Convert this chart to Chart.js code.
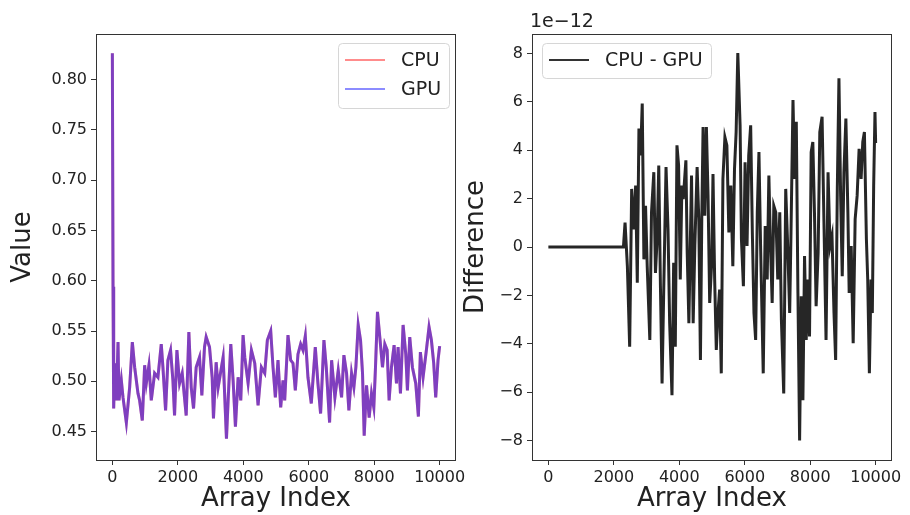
<!DOCTYPE html>
<html>
<head>
<meta charset="utf-8">
<script src="https://cdn.jsdelivr.net/npm/chart.js@4.4.1/dist/chart.umd.min.js"></script>
<style>
  html, body { margin: 0; padding: 0; background: #fff; }
  #wrap { position: relative; width: 910px; height: 515px; overflow: hidden; }
  #leftChart { position: absolute; left: 0; top: 0; }
  #rightChart { position: absolute; left: 460px; top: 0; }
</style>
</head>
<body>
<div id="wrap">
  <canvas id="leftChart" width="475" height="515"></canvas>
  <canvas id="rightChart" width="450" height="515"></canvas>
</div>
<script>
// ========== DATA ==========
// left panel: values per array index
const valueIdx = [0, 20, 40, 71, 122, 173, 203, 274, 325, 427, 528, 610, 681, 783, 833, 915, 986, 1037, 1118, 1189,
    1291, 1392, 1494, 1545, 1626, 1697, 1778, 1850, 1900, 1972, 2053, 2134, 2256, 2337, 2409, 2480, 2561, 2663, 2734, 2815,
    2866, 2968, 3049, 3089, 3171, 3232, 3384, 3486, 3537, 3618, 3689, 3760, 3842, 3923, 3994, 4045, 4147, 4248, 4350, 4452,
    4553, 4655, 4736, 4838, 4909, 4980, 5061, 5143, 5214, 5265, 5366, 5448, 5519, 5590, 5671, 5752, 5824, 5895, 5976, 6078,
    6200, 6281, 6362, 6464, 6535, 6637, 6698, 6799, 6901, 7003, 7074, 7155, 7226, 7308, 7379, 7440, 7511, 7582, 7643, 7694,
    7765, 7846, 7917, 7988, 8039, 8100, 8171, 8253, 8324, 8395, 8456, 8527, 8608, 8680, 8730, 8802, 8883, 8964, 9015, 9086,
    9167, 9269, 9350, 9411, 9493, 9594, 9675, 9747, 9818, 9879, 9950, 9999];
const cpuValues = [0.826, 0.594, 0.473, 0.518, 0.481, 0.539, 0.481, 0.501, 0.484, 0.459, 0.494, 0.539, 0.514, 0.488, 0.481, 0.461, 0.516, 0.498, 0.516, 0.481,
    0.508, 0.504, 0.537, 0.514, 0.471, 0.521, 0.531, 0.501, 0.466, 0.531, 0.498, 0.508, 0.466, 0.549, 0.494, 0.473, 0.514, 0.524, 0.486, 0.534,
    0.544, 0.534, 0.504, 0.463, 0.519, 0.494, 0.524, 0.443, 0.481, 0.537, 0.501, 0.455, 0.504, 0.481, 0.546, 0.524, 0.498, 0.531, 0.518, 0.476,
    0.514, 0.508, 0.541, 0.550, 0.514, 0.484, 0.521, 0.474, 0.501, 0.481, 0.546, 0.521, 0.518, 0.491, 0.527, 0.537, 0.531, 0.545, 0.504, 0.478,
    0.534, 0.498, 0.468, 0.541, 0.514, 0.459, 0.521, 0.484, 0.511, 0.484, 0.526, 0.508, 0.471, 0.508, 0.494, 0.514, 0.556, 0.541, 0.508, 0.446,
    0.496, 0.464, 0.488, 0.474, 0.514, 0.569, 0.544, 0.514, 0.537, 0.531, 0.481, 0.514, 0.536, 0.498, 0.534, 0.488, 0.556, 0.527, 0.491, 0.544,
    0.514, 0.498, 0.465, 0.529, 0.504, 0.531, 0.554, 0.541, 0.518, 0.484, 0.521, 0.535];
// GPU matches CPU to ~1e-12, so at plot resolution it is the same curve
const gpuValues = cpuValues.slice();

// right panel: CPU - GPU, in units of 1e-12
const diffIdx = [0, 2293, 2343, 2414, 2484, 2545, 2616, 2666, 2717, 2767, 2818, 2868, 2919, 2969, 3020, 3100, 3151, 3222, 3272, 3323,
    3373, 3424, 3474, 3525, 3595, 3656, 3706, 3777, 3828, 3878, 3929, 3979, 4030, 4080, 4121, 4202, 4242, 4293, 4374, 4424,
    4475, 4545, 4596, 4646, 4687, 4727, 4778, 4828, 4879, 4929, 4990, 5030, 5081, 5131, 5182, 5232, 5283, 5333, 5394, 5454,
    5515, 5575, 5636, 5687, 5737, 5788, 5858, 5899, 5959, 6010, 6070, 6121, 6181, 6232, 6282, 6333, 6383, 6434, 6484, 6565,
    6625, 6686, 6737, 6787, 6838, 6888, 6949, 7009, 7070, 7120, 7191, 7252, 7312, 7373, 7413, 7474, 7524, 7575, 7625, 7676,
    7726, 7777, 7827, 7878, 7928, 7979, 8029, 8080, 8130, 8181, 8242, 8293, 8363, 8424, 8484, 8545, 8606, 8666, 8727, 8777,
    8828, 8878, 8929, 8979, 9030, 9090, 9151, 9191, 9252, 9313, 9373, 9434, 9494, 9555, 9606, 9656, 9717, 9757, 9808, 9858,
    9898, 9939, 9979, 9999];
const diffE12 = [0, 0, 1.01, -0.79, -4.12, 2.40, 0.73, 2.54, -1.48, 4.89, 3.78, 5.93, -0.51, 1.70, -0.79, -3.84, 1.43, 3.09, -1.07, 0.32,
    3.37, -1.62, -5.64, -1.76, 3.30, 0.73, -3.15, -6.12, -0.65, -4.12, 4.20, 3.37, -1.34, 2.54, 1.98, 3.58, -0.24, -3.15, 2.95, -3.15,
    0.04, 3.30, 1.15, -4.67, 1.15, 4.96, 1.29, 4.96, 2.12, -2.31, -0.65, 3.02, -1.34, -4.25, -2.73, -1.76, -5.22, 2.81, 4.54, 4.20,
    0.60, 2.54, -0.79, 3.23, 4.75, 8.01, 5.03, 0.32, -1.62, 3.50, 0.04, 3.78, 5.03, 0.60, -2.73, -3.84, 1.43, 3.92, 0.04, -5.22,
    0.87, -1.34, 2.95, 0.04, -2.31, 1.70, 1.43, -1.34, 1.43, -3.01, -6.05, 2.40, 0.04, -2.73, 0.60, 6.07, 2.81, 5.17, -1.90, -7.99,
    -2.04, -6.33, -0.37, -3.84, -1.34, -3.70, 3.92, 4.34, 1.43, -2.45, -0.24, 4.75, 5.38, 0.73, -3.84, 3.09, 0.04, 0.46, -2.73, -4.67,
    2.40, 6.97, 2.12, -1.21, 3.09, 5.31, 1.43, -1.90, 0.04, -3.98, 1.15, 2.12, 4.06, 2.81, 4.34, 4.75, 0.32, -1.34, -5.22, -1.34,
    -2.73, 2.54, 5.58, 4.30];

// ticks
const xTicks = [0, 2000, 4000, 6000, 8000, 10000];
const valueTicks = [0.45, 0.50, 0.55, 0.60, 0.65, 0.70, 0.75, 0.80];
const diffTicks = [-8, -6, -4, -2, 0, 2, 4, 6, 8];
const diffTickLabels = ['\u22128', '\u22126', '\u22124', '\u22122', '0', '2', '4', '6', '8'];


// ========== HELPERS ==========
const FONT = 'DejaVu Sans';
const INK = '#222';

function toPoints(xs, ys) {
    return xs.map((x, i) => ({ x: x, y: ys[i] }));
}

function roundRect(ctx, x, y, w, h, r) {
    ctx.beginPath();
    ctx.moveTo(x + r, y);
    ctx.lineTo(x + w - r, y);
    ctx.quadraticCurveTo(x + w, y, x + w, y + r);
    ctx.lineTo(x + w, y + h - r);
    ctx.quadraticCurveTo(x + w, y + h, x + w - r, y + h);
    ctx.lineTo(x + r, y + h);
    ctx.quadraticCurveTo(x, y + h, x, y + h - r);
    ctx.lineTo(x, y + r);
    ctx.quadraticCurveTo(x, y, x + r, y);
    ctx.closePath();
}

// frame + matplotlib-like legend + optional offset text
const framePlugin = {
    id: 'mplFrame',
    afterDraw(chart, args, opts) {
        const ctx = chart.ctx;
        const a = chart.chartArea;
        ctx.save();
        ctx.strokeStyle = '#333';
        ctx.lineWidth = 1;
        ctx.strokeRect(Math.round(a.left) + 0.5, Math.round(a.top) + 0.5,
            Math.round(a.right - a.left) - 1, Math.round(a.bottom - a.top));

        if (opts.legend) {
            const lg = opts.legend;
            roundRect(ctx, lg.x + 0.5, lg.y + 0.5, lg.w, lg.h, 4);
            ctx.fillStyle = 'rgba(255,255,255,0.8)';
            ctx.fill();
            ctx.strokeStyle = '#d6d6d6';
            ctx.stroke();
            ctx.font = '19px "' + FONT + '"';
            ctx.textBaseline = 'middle';
            ctx.textAlign = 'left';
            lg.items.forEach((it, i) => {
                const yy = lg.y + 17 + i * 29;
                ctx.strokeStyle = it.color;
                ctx.lineWidth = 2;
                ctx.beginPath();
                ctx.moveTo(lg.x + 7, yy);
                ctx.lineTo(lg.x + 47, yy);
                ctx.stroke();
                ctx.fillStyle = INK;
                ctx.fillText(it.text, lg.x + 63, yy + 1);
            });
        }

        if (opts.offsetText) {
            ctx.font = '19px "' + FONT + '"';
            ctx.fillStyle = INK;
            ctx.textAlign = 'left';
            ctx.textBaseline = 'alphabetic';
            ctx.fillText(opts.offsetText, a.left - 2, a.top - 7);
        }
        ctx.restore();
    }
};

function axisX(title) {
    return {
        type: 'linear',
        min: -500,
        max: 10499,
        afterBuildTicks: s => { s.ticks = xTicks.map(v => ({ value: v })); },
        afterFit: s => { s.height = 55; s.paddingLeft = 0; s.paddingRight = 0; },
        grid: { drawOnChartArea: false, drawTicks: true, tickLength: 5, color: '#333' },
        border: { display: false },
        ticks: {
            font: { family: FONT, size: 16 }, color: INK, padding: 3, maxRotation: 0,
            callback: v => String(v)
        },
        title: { display: true, text: title, font: { family: FONT, size: 26 }, color: INK, padding: { top: 0, bottom: 0 } }
    };
}

function axisY(opts) {
    return {
        type: 'linear',
        min: opts.min,
        max: opts.max,
        afterBuildTicks: s => { s.ticks = opts.ticks.map(v => ({ value: v })); },
        afterFit: s => { s.width = opts.width; s.paddingTop = 0; s.paddingBottom = 0; },
        grid: { drawOnChartArea: false, drawTicks: true, tickLength: 5, color: '#333' },
        border: { display: false },
        ticks: {
            font: { family: FONT, size: 16 }, color: INK, padding: 4,
            callback: opts.label
        },
        title: { display: true, text: opts.title, font: { family: FONT, size: 26 }, color: INK, padding: { top: opts.titlePad, bottom: 0 } }
    };
}


// ========== CHARTS ==========
function createValueChart() {
    const ctx = document.getElementById('leftChart');
    window.valueChart = new Chart(ctx, {
        type: 'line',
        data: {
            datasets: [{
                label: 'CPU',
                data: toPoints(valueIdx, cpuValues),
                borderColor: 'rgba(255,0,0,0.5)',
                borderWidth: 3,
                pointRadius: 0,
                tension: 0,
                order: 1
            }, {
                label: 'GPU',
                data: toPoints(valueIdx, gpuValues),
                borderColor: 'rgba(0,0,255,0.5)',
                borderWidth: 3,
                pointRadius: 0,
                tension: 0,
                order: 0
            }]
        },
        options: {
            responsive: false,
            animation: false,
            devicePixelRatio: 1,
            layout: { padding: { top: 34, right: 19, left: 0, bottom: 0 } },
            scales: {
                x: axisX('Array Index'),
                y: axisY({
                    min: 0.4218, max: 0.8452, ticks: valueTicks, width: 96, titlePad: 8,
                    title: 'Value', label: v => v.toFixed(2)
                })
            },
            plugins: {
                legend: { display: false },
                tooltip: { enabled: false },
                mplFrame: {
                    legend: {
                        x: 338, y: 43, w: 111, h: 65,
                        items: [
                            { text: 'CPU', color: 'rgba(255,0,0,0.45)' },
                            { text: 'GPU', color: 'rgba(0,0,255,0.45)' }
                        ]
                    }
                }
            }
        },
        plugins: [framePlugin]
    });
}

function createDiffChart() {
    const ctx = document.getElementById('rightChart');
    window.diffChart = new Chart(ctx, {
        type: 'line',
        data: {
            datasets: [{
                label: 'CPU - GPU',
                data: toPoints(diffIdx, diffE12),
                borderColor: 'rgba(0,0,0,0.85)',
                borderWidth: 3,
                pointRadius: 0,
                tension: 0
            }]
        },
        options: {
            responsive: false,
            animation: false,
            devicePixelRatio: 1,
            layout: { padding: { top: 34, right: 18, left: 0, bottom: 0 } },
            scales: {
                x: axisX('Array Index'),
                y: axisY({
                    min: -8.8, max: 8.8, ticks: diffTicks, width: 72, titlePad: 1,
                    title: 'Difference',
                    label: v => diffTickLabels[diffTicks.indexOf(v)]
                })
            },
            plugins: {
                legend: { display: false },
                tooltip: { enabled: false },
                mplFrame: {
                    offsetText: '1e\u221212',
                    legend: {
                        x: 82, y: 43, w: 169, h: 35,
                        items: [{ text: 'CPU - GPU', color: 'rgba(0,0,0,0.8)' }]
                    }
                }
            }
        },
        plugins: [framePlugin]
    });
}

createValueChart();
createDiffChart();
</script>
</body>
</html>
